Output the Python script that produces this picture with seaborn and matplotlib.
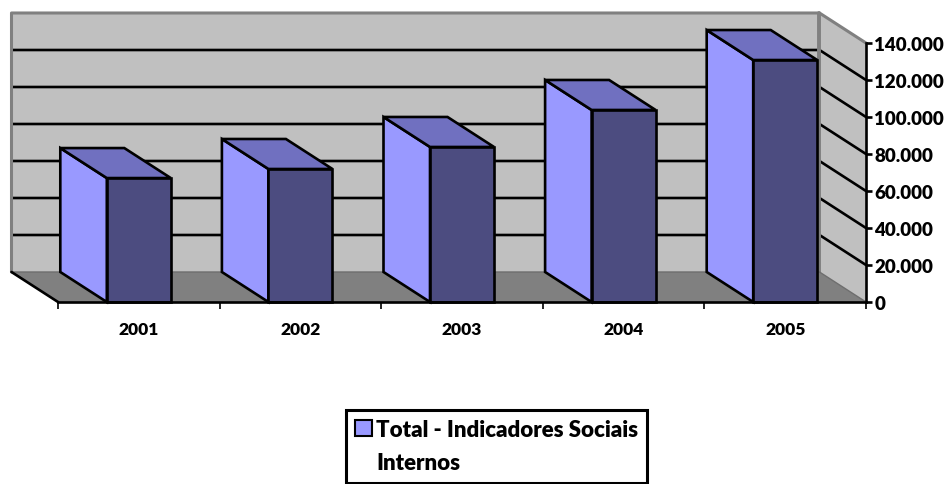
import matplotlib
matplotlib.use("Agg")
import matplotlib.pyplot as plt
import seaborn as sns
from matplotlib.patches import Patch, Polygon

# values
anos = ["2001", "2002", "2003", "2004", "2005"]
total = [67000, 71900, 83800, 103800, 130800]
y_ticks = [0, 20000, 40000, 60000, 80000, 100000, 120000, 140000]
y_labels = ["0", "20.000", "40.000", "60.000", "80.000", "100.000", "120.000", "140.000"]
serie = ["Total - Indicadores Sociais", "Internos"]

sns.set_theme(style="white")
plt.rcParams["font.family"] = ["Lato", "DejaVu Sans"]

W, H = 945, 485
fig = plt.figure(figsize=(W / 100, H / 100), dpi=100)
ax = fig.add_axes([58 / W, (H - 303) / H, 808 / W, 259 / H])
ax.patch.set_visible(False)

# fake 3d depth, in data units
dx = -46.5 / 161.6
dy = 30 / 259 * 140000
x0, x1 = -0.5, 4.5
y1 = 140000
bar_w = 64 / 161.6
LW = 1.9

# Step 1: Walls and floor
def poly(pts, fc, z, ec="none", lw=0):
    ax.add_patch(Polygon(pts, closed=True, fc=fc, ec=ec, lw=lw, zorder=z, clip_on=False))

poly([(x0 + dx, dy), (x1 + dx, dy), (x1 + dx, y1 + dy), (x0 + dx, y1 + dy)], "#C0C0C0", 0.2)
poly([(x1 + dx, dy), (x1, 0), (x1, y1), (x1 + dx, y1 + dy)], "#C0C0C0", 0.2)
poly([(x0 + dx, dy), (x1 + dx, dy), (x1, 0), (x0, 0)], "#808080", 0.3)

# gridlines run along the back wall then down the side wall
for t in y_ticks[1:-1]:
    ax.plot([x0 + dx, x1 + dx, x1], [t + dy, t + dy, t], color="black", lw=LW, zorder=0.4, clip_on=False)

# wall borders
ax.plot([x0 + dx, x0 + dx, x1 + dx, x1], [dy, y1 + dy, y1 + dy, y1], color="#808080", lw=LW + 0.3, zorder=0.5, clip_on=False)
ax.plot([x1 + dx, x1 + dx], [dy, y1 + dy], color="#808080", lw=LW + 0.9, zorder=0.5, clip_on=False)
ax.plot([x0 + dx, x1 + dx, x1], [dy, dy, 0], color="#6E6E6E", lw=1.0, zorder=0.5, clip_on=False)
ax.plot([x0 + dx, x0], [dy, 0], color="black", lw=LW, zorder=0.6, clip_on=False)

# Step 2: Bars
sns.barplot(x=anos, y=total, color="#4C4C80", saturation=1, width=bar_w,
            edgecolor="black", linewidth=LW, ax=ax, zorder=3, clip_on=False)

for i, v in enumerate(total):
    l, r = i - bar_w / 2, i + bar_w / 2
    poly([(l, 0), (l + dx, dy), (l + dx, v + dy), (l, v)], "#9999FF", 2, "black", LW)
    poly([(l, v), (l + dx, v + dy), (r + dx, v + dy), (r, v)], "#7070C0", 2, "black", LW)

# Step 3: Axes
ax.set_xlim(x0, x1)
ax.set_ylim(0, y1)
sns.despine(ax=ax, left=True, top=True, right=False, bottom=False)
for s in ["right", "bottom"]:
    ax.spines[s].set_color("black")
    ax.spines[s].set_linewidth(LW)
    ax.spines[s].set_zorder(5)

ax.yaxis.tick_right()
ax.set_yticks(y_ticks)
ax.set_yticklabels(y_labels, fontsize=13.5, fontweight="heavy", color="black")
ax.tick_params(axis="y", length=4, width=LW, color="black", pad=2, right=True, left=False)

ax.set_xticks(range(len(anos)))
ax.set_xticklabels(anos, fontsize=12.5, fontweight="heavy", color="black")
ax.set_xticks([x0 + i for i in range(6)], minor=True)
ax.tick_params(axis="x", which="major", length=0, pad=14, bottom=True)
ax.tick_params(axis="x", which="minor", length=5, width=1.2, color="black", bottom=True)

# Step 4: Legend, second line gets an empty handle so the swatch stays on the first
handles = [Patch(fc="#9999FF", ec="black", lw=1.5), Patch(visible=False)]
leg = fig.legend(handles, serie, loc="lower left", bbox_to_anchor=(346 / W, 1.5 / H),
                 frameon=True, fancybox=False, edgecolor="black", facecolor="white",
                 prop={"size": 16, "weight": "heavy"}, labelcolor="black", borderaxespad=0,
                 borderpad=0.42, handlelength=0.75, handleheight=0.75, handletextpad=0.18,
                 labelspacing=0.55)
leg.get_frame().set_linewidth(2.2)
leg.get_frame().set_alpha(1)
leg.set_alignment("left")

fig.savefig("out.png", dpi=100)
